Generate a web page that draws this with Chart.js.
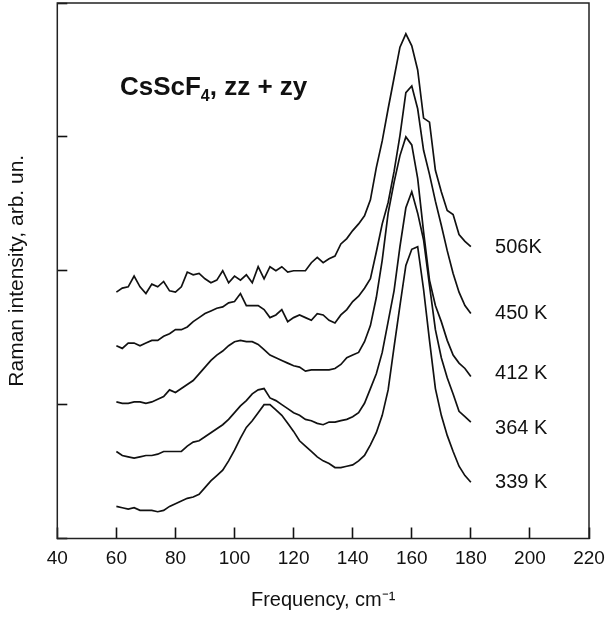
<!DOCTYPE html>
<html><head><meta charset="utf-8">
<script src="https://cdn.jsdelivr.net/npm/chart.js@4/dist/chart.umd.min.js"></script>
<style>html,body{margin:0;padding:0;background:#fff;}#wrap{width:608px;height:620px;}</style>
</head><body><div id="wrap"><canvas id="c" width="608" height="620"></canvas></div>
<script>
// ---- data ----
const frequency = [60,62,64,66,68,70,72,74,76,78,
  80,82,84,86,88,90,92,94,96,98,
  100,102,104,106,108,110,112,114,116,118,
  120,122,124,126,128,130,132,134,136,138,
  140,142,144,146,148,150,152,154,156,158,
  160,162,164,166,168,170,172,174,176,178,180];
const temperatures = ['506K','450 K','412 K','364 K','339 K'];
const i506 = [1.84,1.87,1.88,1.96,1.88,1.83,1.90,1.88,1.92,1.85,
  1.84,1.88,1.99,1.97,1.98,1.94,1.91,1.93,2.00,1.91,
  1.96,1.93,1.97,1.91,2.03,1.94,2.03,2.00,2.03,1.99,
  2.00,2.00,2.00,2.06,2.10,2.06,2.09,2.11,2.20,2.24,
  2.30,2.35,2.41,2.53,2.77,2.97,3.21,3.44,3.67,3.77,
  3.68,3.50,3.14,3.11,2.75,2.59,2.45,2.42,2.27,2.22,2.18];
const i450 = [1.44,1.42,1.46,1.46,1.44,1.46,1.48,1.48,1.51,1.53,
  1.56,1.56,1.58,1.62,1.65,1.68,1.70,1.72,1.73,1.76,
  1.77,1.83,1.74,1.74,1.74,1.71,1.65,1.67,1.71,1.62,
  1.65,1.67,1.65,1.63,1.68,1.67,1.63,1.61,1.67,1.71,
  1.77,1.81,1.87,1.94,2.14,2.35,2.51,2.74,3.01,3.33,
  3.38,3.21,2.90,2.72,2.52,2.34,2.15,1.98,1.84,1.74,1.68];
const i412 = [1.02,1.01,1.01,1.02,1.02,1.01,1.02,1.04,1.06,1.11,
  1.09,1.12,1.15,1.18,1.23,1.28,1.33,1.37,1.40,1.44,
  1.47,1.48,1.47,1.47,1.45,1.41,1.37,1.35,1.33,1.31,
  1.29,1.28,1.25,1.26,1.26,1.26,1.26,1.27,1.30,1.35,
  1.37,1.39,1.47,1.59,1.80,2.08,2.43,2.66,2.86,3.00,
  2.94,2.69,2.29,1.93,1.74,1.62,1.48,1.37,1.31,1.27,1.21];
const i364 = [0.65,0.62,0.61,0.60,0.61,0.62,0.62,0.63,0.65,0.65,
  0.65,0.65,0.69,0.72,0.73,0.76,0.79,0.82,0.85,0.89,
  0.94,0.99,1.03,1.08,1.11,1.12,1.05,1.03,1.00,0.97,
  0.94,0.92,0.89,0.88,0.86,0.85,0.87,0.87,0.88,0.89,
  0.91,0.94,1.01,1.12,1.23,1.39,1.62,1.85,2.18,2.47,
  2.59,2.43,2.23,1.89,1.56,1.35,1.20,1.08,0.95,0.91,0.87];
const i339 = [0.24,0.23,0.22,0.23,0.21,0.21,0.21,0.20,0.21,0.24,
  0.26,0.28,0.30,0.31,0.33,0.38,0.43,0.47,0.51,0.58,
  0.66,0.75,0.83,0.88,0.94,1.00,1.00,0.96,0.92,0.86,
  0.80,0.73,0.69,0.65,0.61,0.58,0.56,0.53,0.53,0.54,
  0.55,0.58,0.62,0.70,0.79,0.92,1.11,1.43,1.74,2.04,
  2.16,2.18,1.86,1.48,1.12,0.92,0.77,0.65,0.54,0.47,0.42];
const xTickValues = [40,60,80,100,120,140,160,180,200,220];
const yTickValues = [0,1,2,3,4];
const chartTitle = ['CsScF', '4', ', zz + zy'];
const xTitle = 'Frequency, cm\u207B\u00B9';
const yTitle = 'Raman intensity, arb. un.';

// ---- annotation placement (data coordinates) ----
const labelAnchor = { x: 188.2, y: [2.175, 1.683, 1.235, 0.825, 0.422] };
const titleAnchor = { x: 61.2, y: 3.31 };

const FONT = '"Liberation Sans", Arial, Helvetica, sans-serif';
const series = [i506, i450, i412, i364, i339];

const datasets = series.map((vals, k) => ({
  label: temperatures[k],
  data: frequency.map((f, i) => ({ x: f, y: vals[i] })),
  borderColor: '#111',
  borderWidth: 1.7,
  pointRadius: 0,
  tension: 0,
  fill: false
}));

const decor = {
  id: 'decor',
  afterDraw(chart) {
    const ctx = chart.ctx;
    const a = chart.chartArea;
    const xs = chart.scales.x, ys = chart.scales.y;
    ctx.save();
    ctx.strokeStyle = '#222';
    ctx.lineWidth = 1.5;
    ctx.strokeRect(a.left, a.top, a.right - a.left, a.bottom - a.top);
    // temperature labels
    ctx.fillStyle = '#111';
    ctx.font = '20px ' + FONT;
    ctx.textBaseline = 'middle';
    ctx.textAlign = 'left';
    temperatures.forEach((t, k) => {
      ctx.fillText(t, xs.getPixelForValue(labelAnchor.x), ys.getPixelForValue(labelAnchor.y[k]));
    });
    // chart title with subscript
    let tx = xs.getPixelForValue(titleAnchor.x);
    const ty = ys.getPixelForValue(titleAnchor.y);
    ctx.textBaseline = 'alphabetic';
    ctx.font = 'bold 26px ' + FONT;
    ctx.fillText(chartTitle[0], tx, ty);
    tx += ctx.measureText(chartTitle[0]).width;
    ctx.font = 'bold 16px ' + FONT;
    ctx.fillText(chartTitle[1], tx, ty + 6);
    tx += ctx.measureText(chartTitle[1]).width;
    ctx.font = 'bold 26px ' + FONT;
    ctx.fillText(chartTitle[2], tx, ty);
    ctx.restore();
  }
};

new Chart(document.getElementById('c'), {
  type: 'line',
  data: { datasets },
  options: {
    responsive: false,
    devicePixelRatio: 1,
    animation: false,
    events: [],
    layout: { padding: { top: 3, right: 19, bottom: 0, left: 0 } },
    plugins: { legend: { display: false }, tooltip: { enabled: false } },
    scales: {
      x: {
        type: 'linear',
        min: 40, max: 220,
        afterBuildTicks: s => { s.ticks = xTickValues.map(v => ({ value: v })); },
        afterFit: s => { s.height = 81.5; s.paddingLeft = 0; s.paddingRight = 0; },
        grid: { display: true, drawOnChartArea: false, drawTicks: true,
                tickLength: -11, tickColor: '#111', tickWidth: 1.6, color: '#111' },
        border: { display: false },
        ticks: { autoSkip: false, maxRotation: 0, padding: 20, color: '#111',
                 font: { family: FONT, size: 19 } },
        title: { display: true, text: xTitle, color: '#111',
                 font: { family: FONT, size: 20 }, padding: { top: 0, bottom: 8 } }
      },
      y: {
        type: 'linear',
        min: 0, max: 4,
        afterBuildTicks: s => { s.ticks = yTickValues.map(v => ({ value: v })); },
        afterFit: s => { s.width = 57.3; s.paddingTop = 0; s.paddingBottom = 0; },
        grid: { display: true, drawOnChartArea: false, drawTicks: true,
                tickLength: -10, tickColor: '#111', tickWidth: 1.6, color: '#111' },
        border: { display: false },
        ticks: { display: false },
        title: { display: true, text: yTitle, color: '#111',
                 font: { family: FONT, size: 21 }, padding: { top: 5, bottom: 0 } }
      }
    }
  },
  plugins: [decor]
});
</script>
</body></html>
